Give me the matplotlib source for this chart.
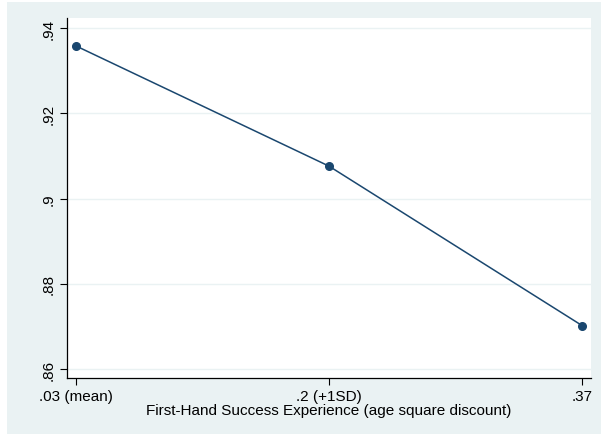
import matplotlib.pyplot as plt
from matplotlib.patches import Rectangle

plt.rcParams['font.family'] = ['Liberation Sans', 'DejaVu Sans']

# data
x_vals = [0.03, 0.2, 0.37]
y_vals = [0.9358, 0.9076, 0.8702]
x_ticks = [0.03, 0.2, 0.37]
x_labels = ['.03 (mean)', '.2 (+1SD)', '.37']
y_ticks = [0.86, 0.88, 0.90, 0.92, 0.94]
y_labels = ['.86', '.88', '.9', '.92', '.94']

bg = '#EAF2F3'
navy = '#1A476F'

fig = plt.figure(figsize=(6.01, 4.35), dpi=100, facecolor='white')
fig.patches.append(Rectangle((7/601, 0), 1 - 7/601, 1 - 3/435,
                             transform=fig.transFigure, facecolor=bg,
                             edgecolor='none', zorder=-10))
ax = fig.add_axes([67/601, 56/435, 524/601, 360/435])
ax.set_facecolor('white')

ax.plot(x_vals, y_vals, color=navy, lw=1.1, marker='o', ms=5.5)

ax.set_xlim(0.024, 0.376)
ax.set_ylim(0.8579, 0.94235)
ax.set_xticks(x_ticks)
ax.set_xticklabels(x_labels, fontsize=11)
ax.set_yticks(y_ticks)
ax.set_yticklabels(y_labels, fontsize=11, rotation=90, va='center')
ax.grid(axis='y', color=bg, lw=1)
ax.set_axisbelow(True)
ax.tick_params(direction='out', length=5, width=0.8, pad=3)

for s in ['top', 'right']:
    ax.spines[s].set_visible(False)
for s in ['left', 'bottom']:
    ax.spines[s].set_linewidth(0.9)

ax.set_xlabel('First-Hand Success Experience (age square discount)', fontsize=11, labelpad=0)

fig.savefig('out.png', dpi=100, facecolor=fig.get_facecolor())
